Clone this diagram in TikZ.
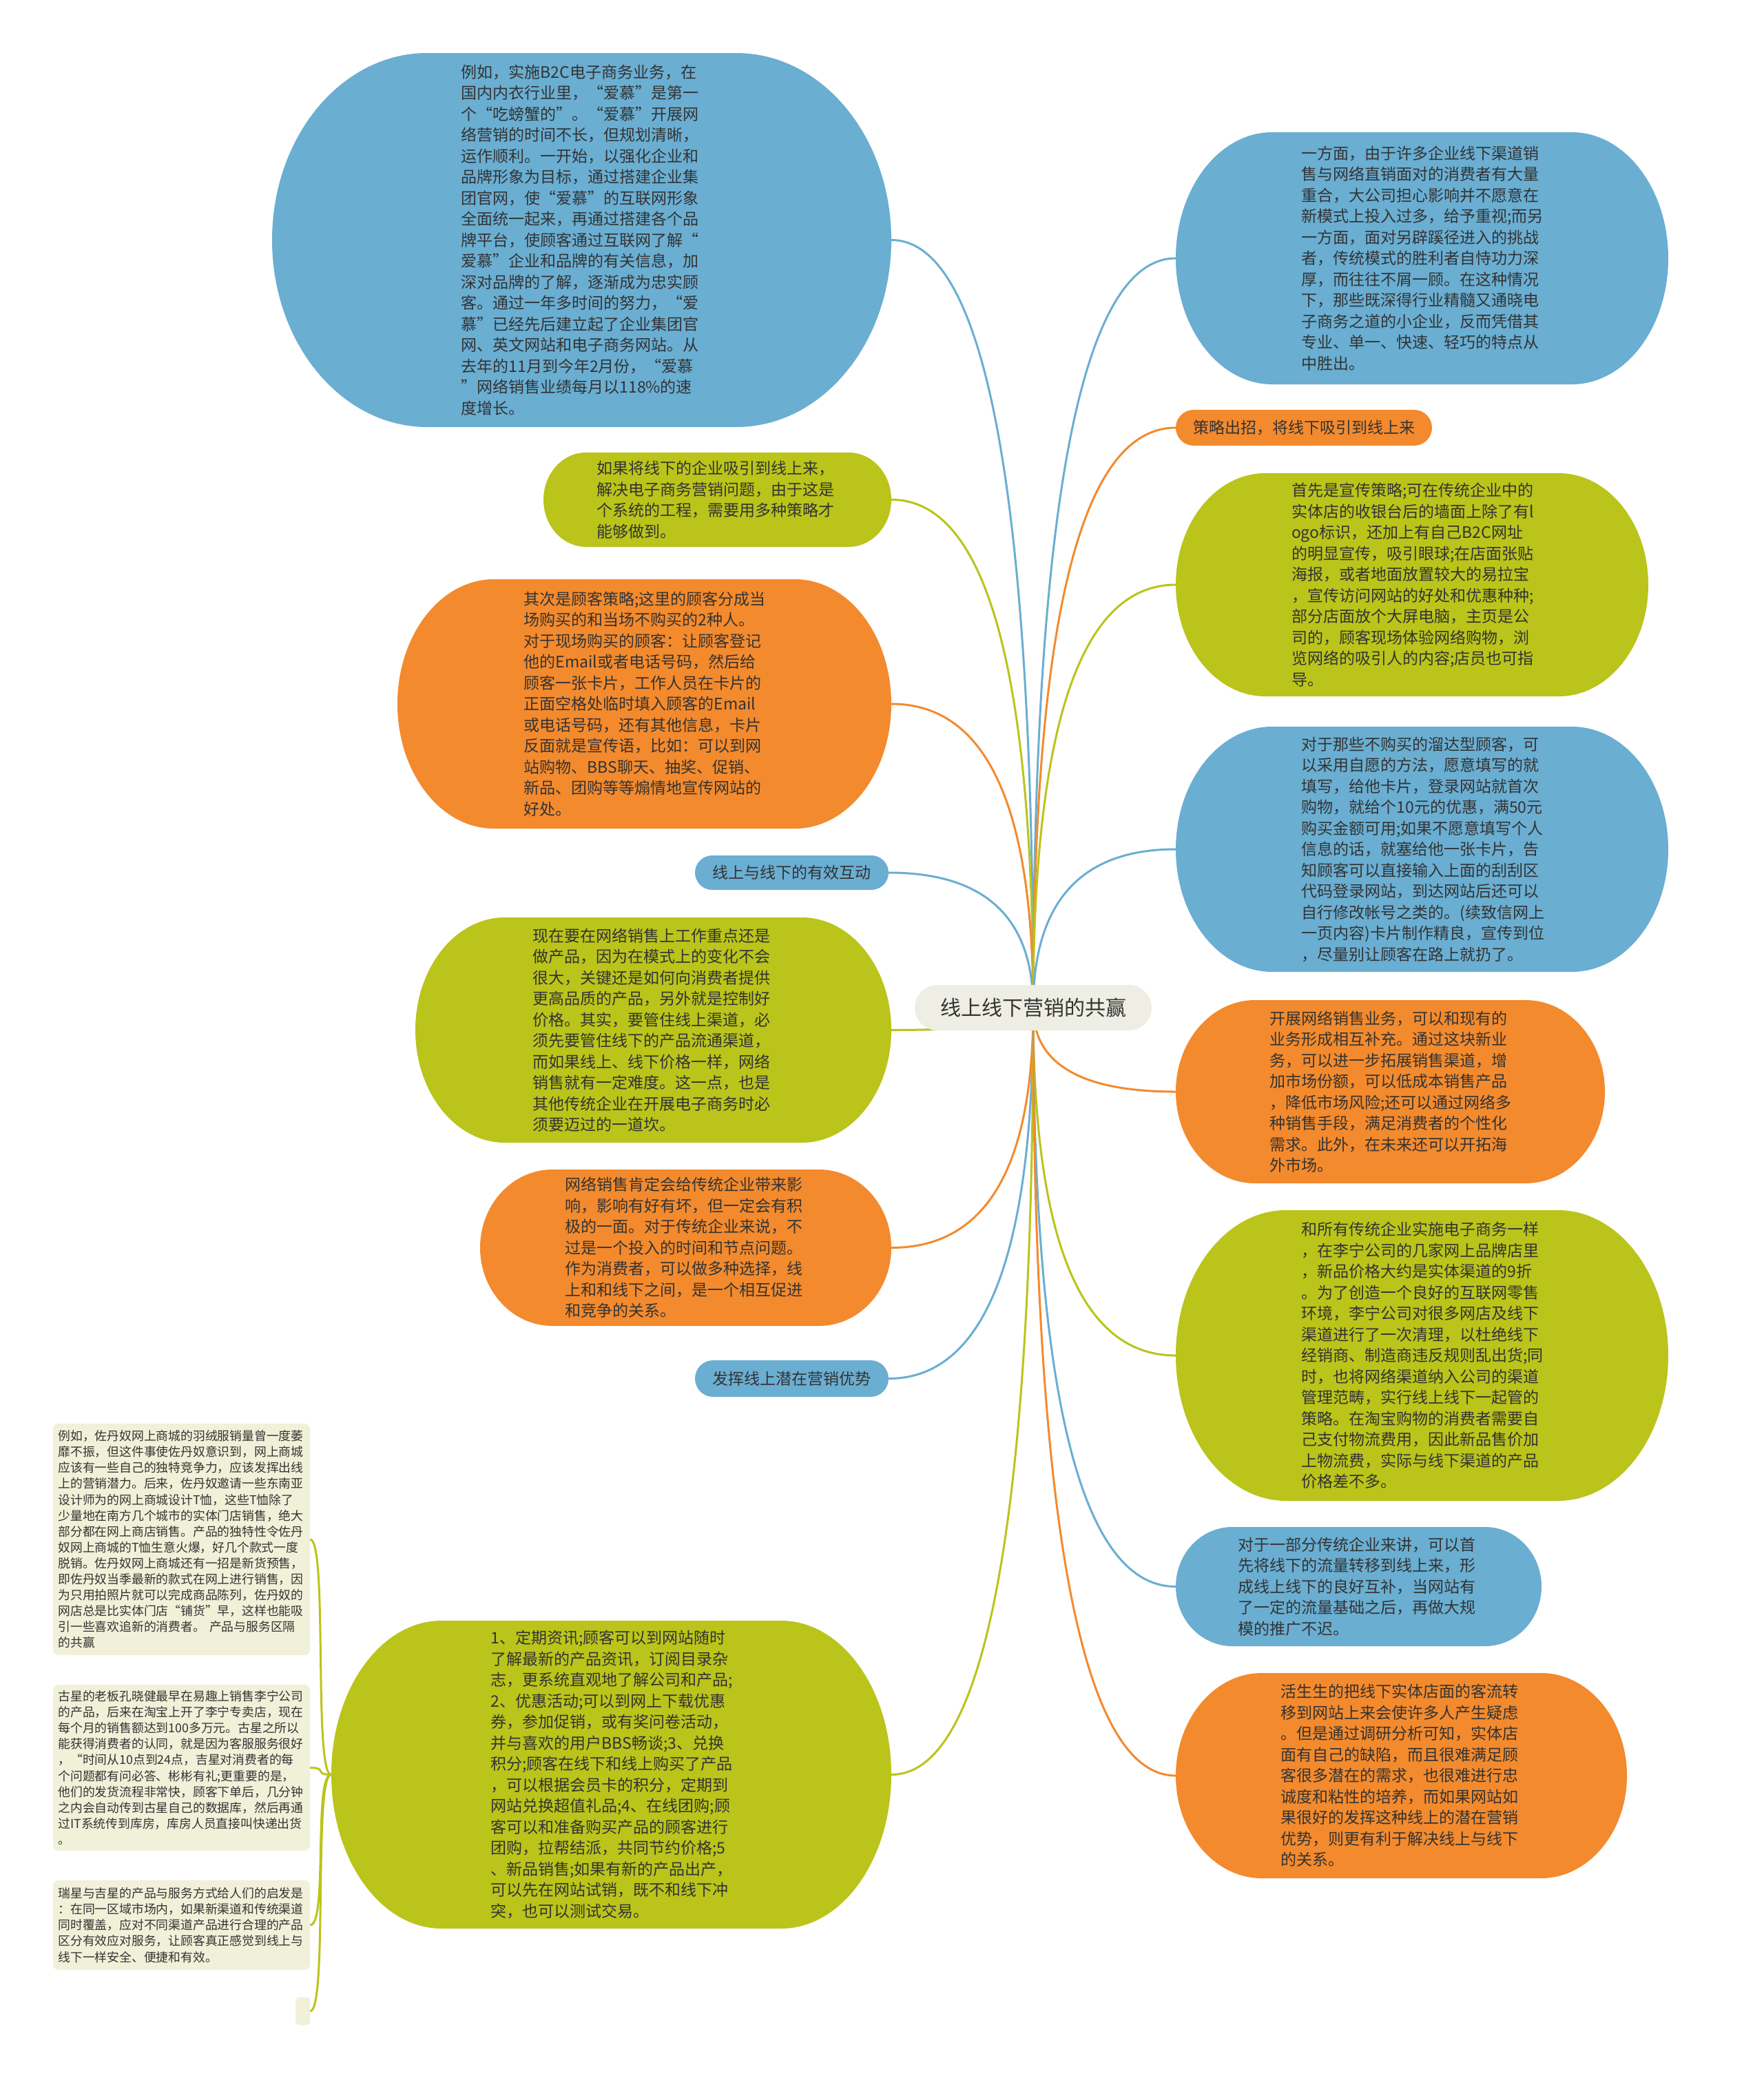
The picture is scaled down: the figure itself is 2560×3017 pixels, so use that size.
\documentclass[tikz,border=0pt]{standalone}
\usepackage{fontspec}
\setmainfont{Noto Sans CJK SC}
\usetikzlibrary{calc}
\definecolor{cblue}{HTML}{6AAED2}
\definecolor{cgreen}{HTML}{BAC41A}
\definecolor{corange}{HTML}{F38A2D}
\definecolor{ccenter}{HTML}{EEEEE4}
\definecolor{cnote}{HTML}{F0F1D8}
\definecolor{ctext}{HTML}{333333}
\pgfdeclarelayer{paper}
\pgfdeclarelayer{bg}
\pgfsetlayers{paper,bg,main}
\tikzset{
  txt/.style={inner sep=0pt, text=ctext, align=left, text width=350pt, font=\fontsize{23}{30.5}\selectfont},
  lbl/.style={inner sep=0pt, text=ctext, align=center, font=\fontsize{23}{30.5}\selectfont},
  ctr/.style={inner sep=0pt, text=ctext, align=center, font=\fontsize{30}{36}\selectfont},
  conn/.style={line width=3pt},
  notebox/.style={fill=cnote, rounded corners=8pt, inner sep=0pt, text=ctext, align=left, text width=358pt, font=\fontsize{17.8}{23.1}\selectfont}
}
% name, x1, y1, x2, y2, rx, colour, style, text
\newcommand{\bub}[9]{%
  \fill[#7] ({#2+#6},{-#3}) -- ({#4-#6},{-#3})
    arc[start angle=90,end angle=-90,x radius={#6*1pt},y radius={(#5-#3)/2*1pt}]
    -- ({#2+#6},{-#5})
    arc[start angle=270,end angle=90,x radius={#6*1pt},y radius={(#5-#3)/2*1pt}] -- cycle;
  \node[#8, minimum width={(#4-#2)*1pt}, minimum height={(#5-#3)*1pt}] (#1) at ({(#2+#4)/2},{-(#3+#5)/2}) {#9};}
\newcommand{\hublink}[3]{%
  \begin{pgfonlayer}{bg}
  \draw[conn,#1] (C.center) .. controls ($(C.center)!0.6667!(C.center|-#2.#3)$) and ($(#2.#3)!0.6667!(C.center|-#2.#3)$) .. (#2.#3);
  \end{pgfonlayer}}
\begin{document}
\begin{tikzpicture}[x=1pt,y=1pt]
\begin{pgfonlayer}{paper}
\fill[white] (0,0) rectangle (2560,-3017);
\end{pgfonlayer}
\useasboundingbox (0,0) rectangle (2560,-3017);

% centre
\bub{C}{1328}{1430}{1672}{1496}{33}{ccenter}{ctr}{线上线下营销的共赢}

% left side
\bub{L1}{395}{77}{1294}{620}{225}{cblue}{txt}{例如，实施B2C电子商务业务，在\\国内内衣行业里，“爱慕”是第一\\个“吃螃蟹的”。“爱慕”开展网\\络营销的时间不长，但规划清晰，\\运作顺利。一开始，以强化企业和\\品牌形象为目标，通过搭建企业集\\团官网，使“爱慕”的互联网形象\\全面统一起来，再通过搭建各个品\\牌平台，使顾客通过互联网了解“\\爱慕”企业和品牌的有关信息，加\\深对品牌的了解，逐渐成为忠实顾\\客。通过一年多时间的努力，“爱\\慕”已经先后建立起了企业集团官\\网、英文网站和电子商务网站。从\\去年的11月到今年2月份，“爱慕\\”网络销售业绩每月以118\%的速\\度增长。}

\bub{L2}{789}{657}{1294}{794}{62}{cgreen}{txt}{如果将线下的企业吸引到线上来，\\解决电子商务营销问题，由于这是\\个系统的工程，需要用多种策略才\\能够做到。}

\bub{L3}{577}{841}{1294}{1203}{140}{corange}{txt}{其次是顾客策略;这里的顾客分成当\\场购买的和当场不购买的2种人。\\对于现场购买的顾客：让顾客登记\\他的Email或者电话号码，然后给\\顾客一张卡片，工作人员在卡片的\\正面空格处临时填入顾客的Email\\或电话号码，还有其他信息，卡片\\反面就是宣传语，比如：可以到网\\站购物、BBS聊天、抽奖、促销、\\新品、团购等等煽情地宣传网站的\\好处。}

\bub{L4}{1009}{1242}{1290}{1292}{25}{cblue}{lbl}{线上与线下的有效互动}

\bub{L5}{603}{1332}{1294}{1659}{130}{cgreen}{txt}{现在要在网络销售上工作重点还是\\做产品，因为在模式上的变化不会\\很大，关键还是如何向消费者提供\\更高品质的产品，另外就是控制好\\价格。其实，要管住线上渠道，必\\须先要管住线下的产品流通渠道，\\而如果线上、线下价格一样，网络\\销售就有一定难度。这一点，也是\\其他传统企业在开展电子商务时必\\须要迈过的一道坎。}

\bub{L6}{697}{1698}{1294}{1925}{105}{corange}{txt}{网络销售肯定会给传统企业带来影\\响，影响有好有坏，但一定会有积\\极的一面。对于传统企业来说，不\\过是一个投入的时间和节点问题。\\作为消费者，可以做多种选择，线\\上和和线下之间，是一个相互促进\\和竞争的关系。}

\bub{L7}{1009}{1975}{1290}{2028}{26}{cblue}{lbl}{发挥线上潜在营销优势}

\bub{L8}{481}{2353}{1294}{2800}{160}{cgreen}{txt}{1、定期资讯;顾客可以到网站随时\\了解最新的产品资讯，订阅目录杂\\志，更系统直观地了解公司和产品;\\2、优惠活动;可以到网上下载优惠\\券，参加促销，或有奖问卷活动，\\并与喜欢的用户BBS畅谈;3、兑换\\积分;顾客在线下和线上购买了产品\\，可以根据会员卡的积分，定期到\\网站兑换超值礼品;4、在线团购;顾\\客可以和准备购买产品的顾客进行\\团购，拉帮结派，共同节约价格;5\\、新品销售;如果有新的产品出产，\\可以先在网站试销，既不和线下冲\\突，也可以测试交易。}

% notes
\node[notebox, minimum width=373pt, minimum height=336pt] (N1) at (263.5,-2235) {例如，佐丹奴网上商城的羽绒服销量曾一度萎\\靡不振，但这件事使佐丹奴意识到，网上商城\\应该有一些自己的独特竞争力，应该发挥出线\\上的营销潜力。后来，佐丹奴邀请一些东南亚\\设计师为的网上商城设计T恤，这些T恤除了\\少量地在南方几个城市的实体门店销售，绝大\\部分都在网上商店销售。产品的独特性令佐丹\\奴网上商城的T恤生意火爆，好几个款式一度\\脱销。佐丹奴网上商城还有一招是新货预售，\\即佐丹奴当季最新的款式在网上进行销售，因\\为只用拍照片就可以完成商品陈列，佐丹奴的\\网店总是比实体门店“铺货”早，这样也能吸\\引一些喜欢追新的消费者。 产品与服务区隔\\的共赢};
\node[notebox, minimum width=373pt, minimum height=241pt] (N2) at (263.5,-2566.5) {古星的老板孔晓健最早在易趣上销售李宁公司\\的产品，后来在淘宝上开了李宁专卖店，现在\\每个月的销售额达到100多万元。古星之所以\\能获得消费者的认同，就是因为客服服务很好\\，“时间从10点到24点，吉星对消费者的每\\个问题都有问必答、彬彬有礼;更重要的是，\\他们的发货流程非常快，顾客下单后，几分钟\\之内会自动传到古星自己的数据库，然后再通\\过IT系统传到库房，库房人员直接叫快递出货\\。};
\node[notebox, minimum width=373pt, minimum height=130pt] (N3) at (263.5,-2795) {瑞星与吉星的产品与服务方式给人们的启发是\\：在同一区域市场内，如果新渠道和传统渠道\\同时覆盖，应对不同渠道产品进行合理的产品\\区分有效应对服务，让顾客真正感觉到线上与\\线下一样安全、便捷和有效。};
\node[fill=cnote, rounded corners=5pt, inner sep=0pt, minimum width=21pt, minimum height=40pt] (N4) at (439.5,-2920) {};

% right side
\bub{R1}{1707}{192}{2422}{558}{140}{cblue}{txt}{一方面，由于许多企业线下渠道销\\售与网络直销面对的消费者有大量\\重合，大公司担心影响并不愿意在\\新模式上投入过多，给予重视;而另\\一方面，面对另辟蹊径进入的挑战\\者，传统模式的胜利者自恃功力深\\厚，而往往不屑一顾。在这种情况\\下，那些既深得行业精髓又通晓电\\子商务之道的小企业，反而凭借其\\专业、单一、快速、轻巧的特点从\\中胜出。}

\bub{R2}{1707}{595}{2079}{647}{26}{corange}{lbl}{策略出招，将线下吸引到线上来}

\bub{R3}{1707}{687}{2393}{1011}{130}{cgreen}{txt}{首先是宣传策略;可在传统企业中的\\实体店的收银台后的墙面上除了有l\\ogo标识，还加上有自己B2C网址\\的明显宣传，吸引眼球;在店面张贴\\海报，或者地面放置较大的易拉宝\\，宣传访问网站的好处和优惠种种;\\部分店面放个大屏电脑，主页是公\\司的，顾客现场体验网络购物，浏\\览网络的吸引人的内容;店员也可指\\导。}

\bub{R4}{1707}{1055}{2422}{1411}{140}{cblue}{txt}{对于那些不购买的溜达型顾客，可\\以采用自愿的方法，愿意填写的就\\填写，给他卡片，登录网站就首次\\购物，就给个10元的优惠，满50元\\购买金额可用;如果不愿意填写个人\\信息的话，就塞给他一张卡片，告\\知顾客可以直接输入上面的刮刮区\\代码登录网站，到达网站后还可以\\自行修改帐号之类的。(续致信网上\\一页内容)卡片制作精良，宣传到位\\，尽量别让顾客在路上就扔了。}

\bub{R5}{1707}{1452}{2330}{1718}{115}{corange}{txt}{开展网络销售业务，可以和现有的\\业务形成相互补充。通过这块新业\\务，可以进一步拓展销售渠道，增\\加市场份额，可以低成本销售产品\\，降低市场风险;还可以通过网络多\\种销售手段，满足消费者的个性化\\需求。此外，在未来还可以开拓海\\外市场。}

\bub{R6}{1707}{1757}{2422}{2179}{160}{cgreen}{txt}{和所有传统企业实施电子商务一样\\，在李宁公司的几家网上品牌店里\\，新品价格大约是实体渠道的9折\\。为了创造一个良好的互联网零售\\环境，李宁公司对很多网店及线下\\渠道进行了一次清理，以杜绝线下\\经销商、制造商违反规则乱出货;同\\时，也将网络渠道纳入公司的渠道\\管理范畴，实行线上线下一起管的\\策略。在淘宝购物的消费者需要自\\己支付物流费用，因此新品售价加\\上物流费，实际与线下渠道的产品\\价格差不多。}

\bub{R7}{1707}{2217}{2238}{2390}{82}{cblue}{txt}{对于一部分传统企业来讲，可以首\\先将线下的流量转移到线上来，形\\成线上线下的良好互补，当网站有\\了一定的流量基础之后，再做大规\\模的推广不迟。}

\bub{R8}{1707}{2429}{2362}{2727}{125}{corange}{txt}{活生生的把线下实体店面的客流转\\移到网站上来会使许多人产生疑虑\\。但是通过调研分析可知，实体店\\面有自己的缺陷，而且很难满足顾\\客很多潜在的需求，也很难进行忠\\诚度和粘性的培养，而如果网站如\\果很好的发挥这种线上的潜在营销\\优势，则更有利于解决线上与线下\\的关系。}

% connectors from the centre
\hublink{cblue}{L1}{east}
\hublink{cgreen}{L2}{east}
\hublink{corange}{L3}{east}
\hublink{cblue}{L4}{east}
\hublink{cgreen}{L5}{east}
\hublink{corange}{L6}{east}
\hublink{cblue}{L7}{east}
\hublink{cgreen}{L8}{east}
\hublink{cblue}{R1}{west}
\hublink{corange}{R2}{west}
\hublink{cgreen}{R3}{west}
\hublink{cblue}{R4}{west}
\hublink{corange}{R5}{west}
\hublink{cgreen}{R6}{west}
\hublink{cblue}{R7}{west}
\hublink{corange}{R8}{west}

% connectors from L8 to the notes
\begin{pgfonlayer}{bg}
\foreach \n in {N1,N2,N3,N4}
  \draw[conn,cgreen] (L8.west) .. controls +(-26,0) and +(26,0) .. (\n.east);
\end{pgfonlayer}
\end{tikzpicture}
\end{document}
